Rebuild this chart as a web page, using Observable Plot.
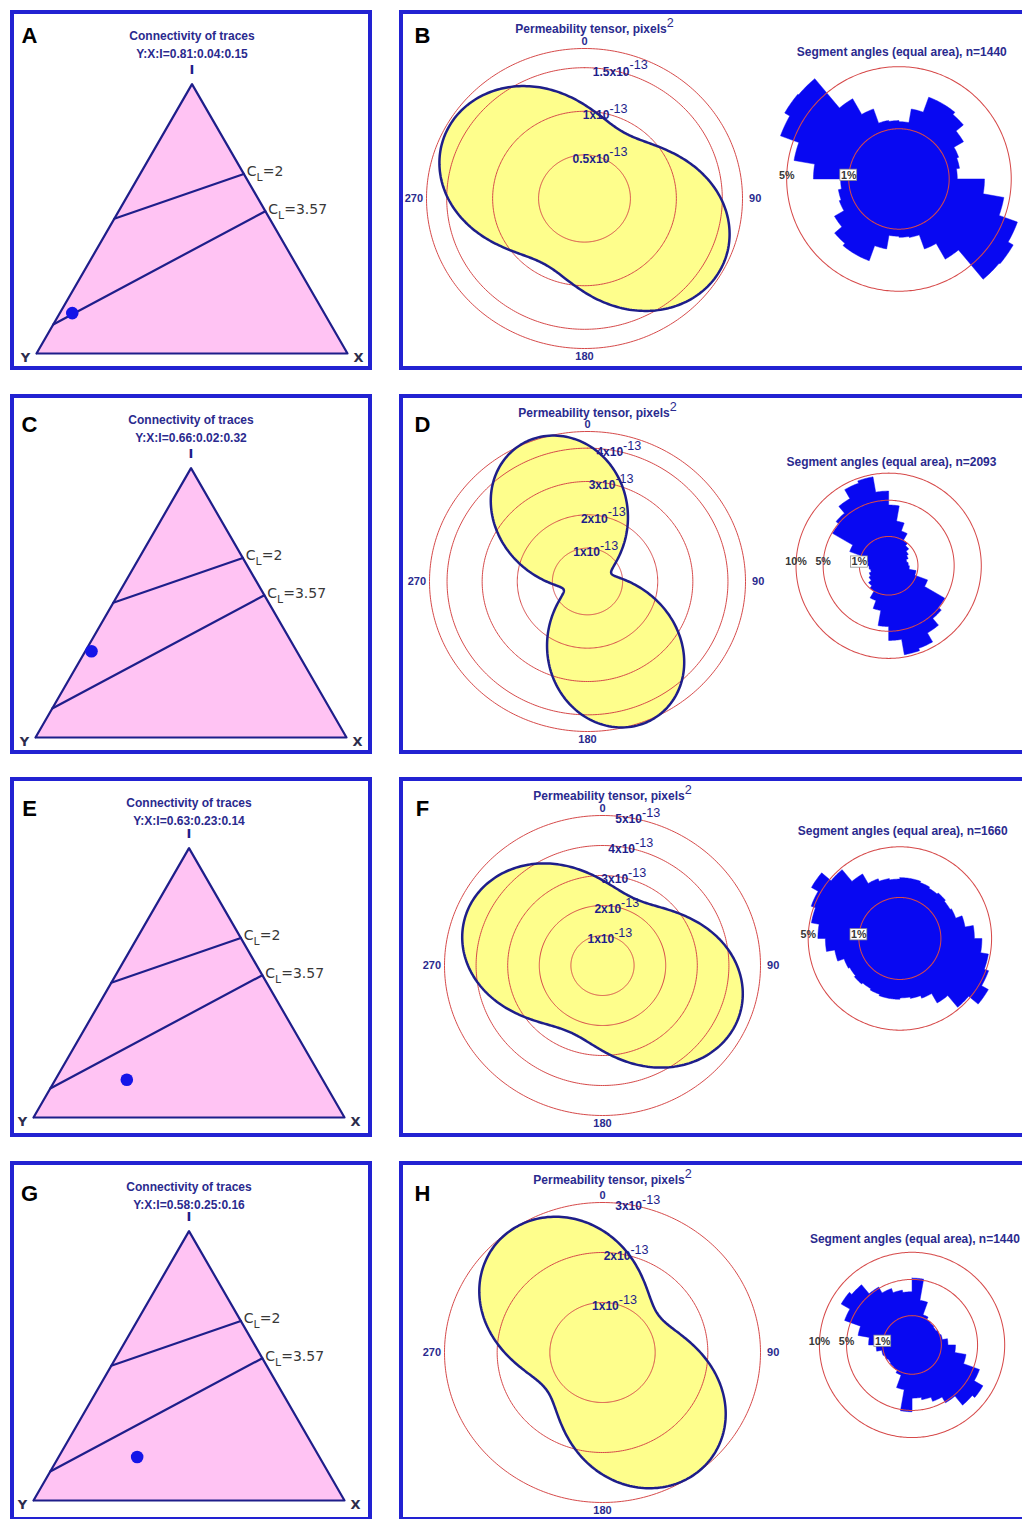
<!DOCTYPE html>
<html>
<head>
<meta charset="utf-8">
<script src="https://cdn.jsdelivr.net/npm/d3@7"></script>
<script src="https://cdn.jsdelivr.net/npm/@observablehq/plot@0.6"></script>
<style>
  html, body { margin: 0; padding: 0; background: #fff; }
  #fig { position: relative; width: 1022px; height: 1519px; overflow: hidden; background: #fff; }
  .frame { position: absolute; border: 4px solid #2222d2; box-sizing: border-box; }
  .panel { position: absolute; }
  .panel svg { display: block; }
</style>
</head>
<body>
<div id="fig"></div>
<script>
// ---------------- data ----------------
const panelLetters = [["A", "B"], ["C", "D"], ["E", "F"], ["G", "H"]];

// node proportions of the trace network (Y : X : I)
const nodeY = [0.81, 0.66, 0.63, 0.58];
const nodeX = [0.04, 0.02, 0.23, 0.25];
const nodeI = [0.15, 0.32, 0.14, 0.16];
// lines of constant connections per line, C_L = 4(Y+X)/(I+Y)
const connectivityLevels = [2, 3.57];

// permeability tensor (principal values in 1e-13 pixels², azimuth of kMax in degrees)
const kMax = [1.69, 4.55, 4.65, 3.0];
const kMin = [0.87, 0.72, 2.45, 1.3];
const kAzimuth = [120, 160, 115, 145];
const kRings = [[0.5, 1, 1.5], [1, 2, 3, 4], [1, 2, 3, 4, 5], [1, 2, 3]];
const kOuter = [1.72, 4.5, 5, 3];
const compassLabels = [0, 90, 180, 270];

// segment-angle rose: % of segments per 10° bin, 0–180° (axial data, mirrored to 180–360°)
const roseN = [1440, 2093, 1660, 1440];
const roseB = [1.3, 2.0, 3.0, 3.0, 2.8, 2.2, 1.6, 1.5, 1.35, 2.9, 4.5, 6.3, 6.9, 6.8, 3.4, 2.2, 1.4, 1.35];
const roseD = [4.3, 2.4, 1.6, 1.0, 0.8, 0.6, 0.5, 0.4, 0.45, 0.5, 0.9, 2.0, 4.9, 5.5, 7.0, 9.0, 9.5, 6.5];
const roseF = [2.2, 2.2, 2.1, 2.0, 2.1, 2.0, 2.1, 2.6, 3.3, 4.0, 4.8, 5.3, 6.2, 4.8, 3.3, 2.4, 2.2, 2.1];
const roseH = [5.2, 2.4, 1.2, 1.0, 0.95, 0.9, 1.0, 1.1, 1.5, 2.2, 3.5, 6.0, 7.8, 7.2, 5.2, 4.2, 3.6, 3.3];
const rosePct = [roseB, roseD, roseF, roseH];
const roseRings = [[1, 5], [1, 5, 10], [1, 5], [1, 5, 10]];
const roseBinWidth = 10;

// ---------------- layout & style ----------------
const rowTop = [11, 395, 778, 1162];
const layout = [
  {triLeft: 25, triBase: 342, tensorCx: 584, tensorCy: 187, roseCx: 908, roseCy: 179, roseR: 120, roseTitleY: 43, letterY: 24.5},
  {triLeft: 24, triBase: 342, tensorCx: 587, tensorCy: 186, roseCx: 897, roseCy: 182, roseR: 99, roseTitleY: 71, letterY: 29},
  {triLeft: 22, triBase: 339, tensorCx: 602, tensorCy: 187, roseCx: 909, roseCy: 171, roseR: 98, roseTitleY: 56, letterY: 30},
  {triLeft: 22, triBase: 338, tensorCx: 602, tensorCy: 190, roseCx: 922, roseCy: 195, roseR: 99, roseTitleY: 82, letterY: 31}
];
const PANEL_H = 358;
const NAVY = "#1e1e8a", TITLE = "#2a2a8e", PINK = "#ffc3f3", DOTC = "#1515e8",
      YELLOW = "#fefe8c", RED = "#d64a4a", BLUE = "#0808f2", GREY = "#383838";
const SANS = "'Liberation Sans', Arial, sans-serif";
const STYLE = {fontFamily: SANS, fontSize: "12px", background: "transparent", overflow: "visible"};
const rad = d => d * Math.PI / 180;

// ternary projection: Y at (0,0), X at (1,0), I at apex
function ternary(y, x, i) {
  const s = y + x + i;
  return {x: (x + i / 2) / s, y: (i * Math.sqrt(3) / 2) / s};
}

// turn "a^{b}" / "a_{b}" inside text nodes into raised / lowered tspans
function richText(svg) {
  const NS = "http://www.w3.org/2000/svg";
  svg.querySelectorAll("text").forEach(t => {
    const s = t.textContent;
    if (!/[\^_]\{/.test(s)) return;
    const parts = s.split(/([\^_]\{[^}]*\})/).filter(p => p.length);
    t.textContent = "";
    let shift = 0;
    for (const p of parts) {
      const ts = document.createElementNS(NS, "tspan");
      let target = 0, txt = p;
      if (p.startsWith("^{")) {
        target = -6.5; txt = p.slice(2, -1);
        ts.setAttribute("font-weight", "normal");
        ts.setAttribute("font-size", "1.05em");
      } else if (p.startsWith("_{")) {
        target = 5; txt = p.slice(2, -1);
        ts.setAttribute("font-size", "0.78em");
      }
      ts.setAttribute("dy", target - shift);
      shift = target;
      ts.textContent = txt;
      t.appendChild(ts);
    }
  });
  return svg;
}

// ---------------- ternary connectivity panel ----------------
function ternaryPanel(row) {
  const L = layout[row];
  const W = 311, H3 = Math.sqrt(3) / 2;
  const tri = [[1, 0, 0], [0, 1, 0], [0, 0, 1], [1, 0, 0]].map(c => ternary(...c));
  const clLines = connectivityLevels.flatMap(c => [
    {c, ...ternary(c / 4, 0, 1 - c / 4)},
    {c, ...ternary(0, c / (c + 4), 4 / (c + 4))}
  ]);
  const clLabels = connectivityLevels.map(c => ({c, ...ternary(0, c / (c + 4), 4 / (c + 4))}));
  const node = ternary(nodeY[row], nodeX[row], nodeI[row]);
  const apex = {label: "I", ...ternary(0, 0, 1)};
  const vY = {label: "Y", ...ternary(1, 0, 0)};
  const vX = {label: "X", ...ternary(0, 1, 0)};
  const ratio = `Y:X:I=${nodeY[row].toFixed(2)}:${nodeX[row].toFixed(2)}:${nodeI[row].toFixed(2)}`;
  return Plot.plot({
    width: 360, height: PANEL_H, margin: 0,
    x: {domain: [0, 1], range: [L.triLeft, L.triLeft + W], axis: null},
    y: {domain: [0, H3], range: [L.triBase, L.triBase - W * H3], axis: null},
    style: STYLE,
    marks: [
      Plot.line(tri, {x: "x", y: "y", fill: PINK, stroke: NAVY, strokeWidth: 2.2}),
      Plot.line(clLines, {x: "x", y: "y", z: "c", stroke: NAVY, strokeWidth: 2.2}),
      Plot.dot([node], {x: "x", y: "y", r: 6.3, fill: DOTC}),
      Plot.text(clLabels, {x: "x", y: "y", text: d => `C_{L}=${d.c}`, textAnchor: "start", dx: 3, dy: -2,
        fontFamily: "DejaVu Sans", fontSize: 14, fill: GREY}),
      Plot.text([apex], {x: "x", y: "y", text: "label", dy: -14, fontFamily: "DejaVu Sans", fontWeight: "bold", fontSize: 13, fill: NAVY}),
      Plot.text([vY], {x: "x", y: "y", text: "label", dx: -11, dy: 4, fontFamily: "DejaVu Sans", fontWeight: "bold", fontSize: 13, fill: "#2c2c4c"}),
      Plot.text([vX], {x: "x", y: "y", text: "label", dx: 11, dy: 4, fontFamily: "DejaVu Sans", fontWeight: "bold", fontSize: 13, fill: "#2c2c4c"}),
      Plot.text(["Connectivity of traces"], {x: () => apex.x, frameAnchor: "top", lineAnchor: "middle", dy: 25,
        fontWeight: "bold", fontSize: 12, fill: TITLE}),
      Plot.text([ratio], {x: () => apex.x, frameAnchor: "top", lineAnchor: "middle", dy: 43,
        fontWeight: "bold", fontSize: 12, fill: TITLE}),
      Plot.text([panelLetters[row][0]], {frameAnchor: "top-left", textAnchor: "middle", lineAnchor: "middle",
        dx: 18, dy: L.letterY, fontWeight: "bold", fontSize: 22, fill: "#000"})
    ]
  });
}

// ---------------- permeability tensor polar panel ----------------
const TENSOR_LEFT = 401, RX = 158, RY = 150;
function tensorPanel(row) {
  const L = layout[row];
  const outer = kOuter[row];
  const cx = L.tensorCx - TENSOR_LEFT, cy = L.tensorCy;
  // directional permeability k(θ) = kMax cos²(θ−φ) + kMin sin²(θ−φ), azimuth clockwise from north
  const curve = d3.range(0, 361).map(a => {
    const t = rad(a - kAzimuth[row]);
    const r = kMax[row] * Math.cos(t) ** 2 + kMin[row] * Math.sin(t) ** 2;
    return {x: r * Math.sin(rad(a)), y: r * Math.cos(rad(a))};
  });
  const ringVals = kRings[row].includes(outer) ? kRings[row] : [...kRings[row], outer];
  const rings = ringVals.flatMap(r => d3.range(0, 361).map(a => ({r, x: r * Math.sin(rad(a)), y: r * Math.cos(rad(a))})));
  return Plot.plot({
    width: 380, height: PANEL_H, margin: 0,
    x: {domain: [-outer, outer], range: [cx - RX, cx + RX], axis: null},
    y: {domain: [-outer, outer], range: [cy + RY, cy - RY], axis: null},
    style: STYLE,
    marks: [
      Plot.line(curve, {x: "x", y: "y", fill: YELLOW, stroke: "none"}),
      Plot.line(rings, {x: "x", y: "y", z: "r", stroke: RED, strokeWidth: 1}),
      Plot.text(kRings[row], {x: r => -22 * outer / RX + 0.22 * r, y: r => r, text: r => `${r}x10^{-13}`,
        textAnchor: "start", lineAnchor: "middle", dy: 4, fontWeight: "bold", fontSize: 12, fill: NAVY}),
      Plot.line(curve, {x: "x", y: "y", stroke: NAVY, strokeWidth: 2.5}),
      Plot.text(compassLabels, {x: a => Math.sin(rad(a)) * 1.08 * outer, y: a => Math.cos(rad(a)) * 1.05 * outer,
        text: a => `${a}`, lineAnchor: "middle", fontWeight: "bold", fontSize: 11, fill: TITLE}),
      Plot.text(["Permeability tensor, pixels^{2}"], {x: () => 0, frameAnchor: "top", lineAnchor: "middle",
        dx: 10, dy: 18, fontWeight: "bold", fontSize: 12, fill: TITLE}),
      Plot.text([panelLetters[row][1]], {frameAnchor: "top-left", textAnchor: "middle", lineAnchor: "middle",
        dx: 21, dy: L.letterY, fontWeight: "bold", fontSize: 22, fill: "#000"})
    ]
  });
}

// ---------------- equal-area rose panel ----------------
const ROSE_LEFT = 760;
function rosePanel(row) {
  const L = layout[row];
  const ringsP = roseRings[row];
  const Rmax = Math.sqrt(ringsP[ringsP.length - 1]);
  const cx = L.roseCx - ROSE_LEFT, cy = L.roseCy;
  // stepped outline of the rose: radius ∝ sqrt(percentage), every bin repeated at θ+180°
  const bins = [...rosePct[row], ...rosePct[row]];
  const outline = [];
  bins.forEach((p, i) => {
    const r = Math.sqrt(p), a0 = i * roseBinWidth;
    for (let a = a0; a <= a0 + roseBinWidth; a += 1) outline.push({x: r * Math.sin(rad(a)), y: r * Math.cos(rad(a))});
  });
  outline.push(outline[0]);
  const rings = ringsP.flatMap(p => d3.range(0, 361).map(a => ({p, x: Math.sqrt(p) * Math.sin(rad(a)), y: Math.sqrt(p) * Math.cos(rad(a))})));
  return Plot.plot({
    width: 280, height: PANEL_H, margin: 0,
    x: {domain: [-Rmax, Rmax], range: [cx - L.roseR, cx + L.roseR], axis: null},
    y: {domain: [-Rmax, Rmax], range: [cy + L.roseR, cy - L.roseR], axis: null},
    style: STYLE,
    marks: [
      Plot.line(outline, {x: "x", y: "y", fill: BLUE, stroke: BLUE, strokeWidth: 0.5, curve: "linear"}),
      Plot.line(rings, {x: "x", y: "y", z: "p", stroke: RED, strokeWidth: 1.1}),
      Plot.rect([ringsP[0]], {x1: p => -Math.sqrt(p), x2: p => -Math.sqrt(p), y1: 0, y2: 0,
        insetLeft: -9, insetRight: -9, insetTop: -10, insetBottom: -2, fill: "#fff", stroke: "#8a8a8a", strokeWidth: 0.8}),
      Plot.text(ringsP, {x: p => -Math.sqrt(p), y: 0, text: p => `${p}%`, lineAnchor: "middle", dy: -4,
        fontWeight: "bold", fontSize: 11.5, fill: GREY}),
      Plot.text([`Segment angles (equal area), n=${roseN[row]}`], {x: () => 0, frameAnchor: "top", lineAnchor: "middle",
        dx: 3, dy: L.roseTitleY, fontWeight: "bold", fontSize: 12.8, fill: TITLE})
    ]
  });
}

// ---------------- assemble ----------------
const fig = document.getElementById("fig");
function place(node, left, top, cls) {
  const div = document.createElement("div");
  div.className = cls;
  div.style.left = left + "px";
  div.style.top = top + "px";
  if (node) div.appendChild(node);
  fig.appendChild(div);
  return div;
}
for (let row = 0; row < 4; ++row) {
  const top = rowTop[row];
  const f1 = place(null, 10, top - 1, "frame"); f1.style.width = "362px"; f1.style.height = "360px";
  const f2 = place(null, 399, top - 1, "frame"); f2.style.width = "640px"; f2.style.height = "360px";
  place(richText(ternaryPanel(row)), 11, top, "panel");
  place(richText(tensorPanel(row)), TENSOR_LEFT, top, "panel");
  place(richText(rosePanel(row)), ROSE_LEFT, top, "panel");
}
</script>
</body>
</html>
